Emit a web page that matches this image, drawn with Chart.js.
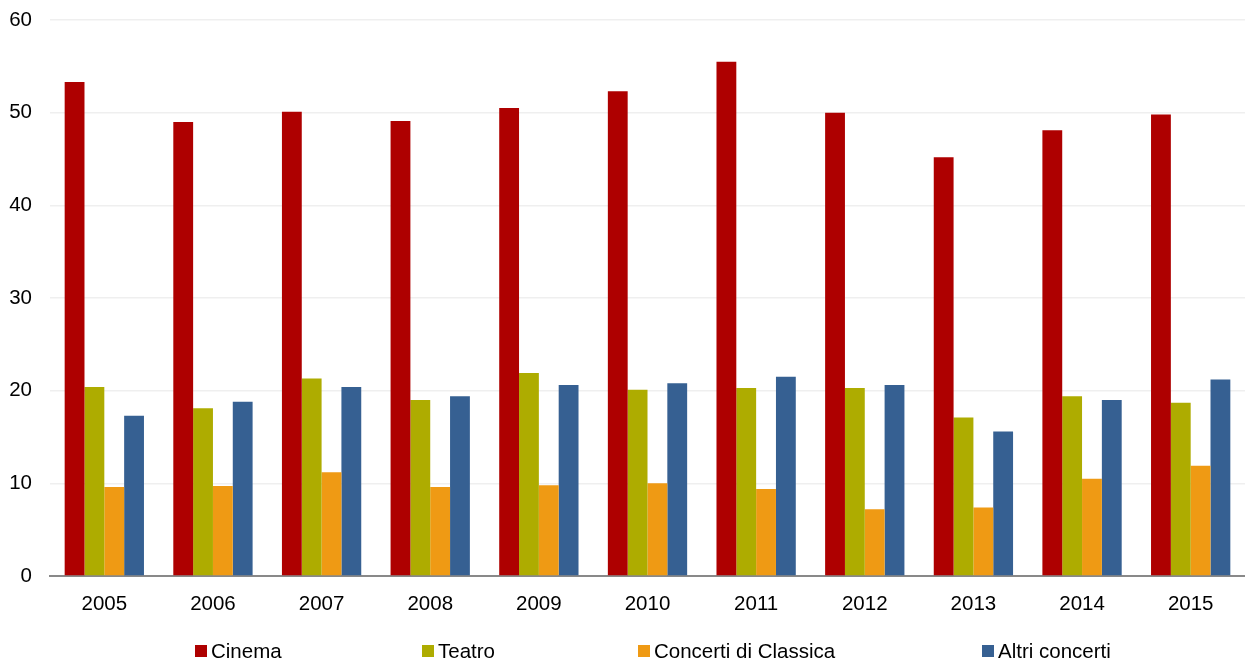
<!DOCTYPE html>
<html>
<head>
<meta charset="utf-8">
<script src="https://cdn.jsdelivr.net/npm/chart.js@4"></script>
<style>
  html, body { margin: 0; padding: 0; background: #fff; }
  #wrap { position: relative; width: 1245px; height: 662px; }
  #legend { position: absolute; left: 0; top: 0; width: 1245px; height: 662px; pointer-events: none;
            font-family: "Liberation Sans", Arial, sans-serif; font-size: 20.5px; color: #000; }
  .li { position: absolute; top: 639px; display: flex; align-items: center; white-space: nowrap; }
  .li .box { width: 12px; height: 12px; margin-right: 4px; }
</style>
</head>
<body>
<div id="wrap">
  <canvas id="c" width="1245" height="662"></canvas>
  <div id="legend"></div>
</div>
<script>
const categories = ["2005","2006","2007","2008","2009","2010","2011","2012","2013","2014","2015"];
const seriesNames = ["Cinema","Teatro","Concerti di Classica","Altri concerti"];
const cinema   = [53.3, 49.0, 50.1, 49.1, 50.5, 52.3, 55.5, 50.0, 45.2, 48.1, 49.8];
const teatro   = [20.4, 18.1, 21.3, 19.0, 21.9, 20.1, 20.3, 20.3, 17.1, 19.4, 18.7];
const classica = [9.6, 9.7, 11.2, 9.6, 9.8, 10.0, 9.4, 7.2, 7.4, 10.5, 11.9];
const altri    = [17.3, 18.8, 20.4, 19.4, 20.6, 20.8, 21.5, 20.6, 15.6, 19.0, 21.2];
const yTicks   = [0, 10, 20, 30, 40, 50, 60];

const colors = ["#AE0000", "#AEAC00", "#EF9A14", "#366092"];
const values = [cinema, teatro, classica, altri];
const legendX = [195, 422, 638, 982];

const font = { family: "'Liberation Sans', Arial, sans-serif", size: 20.5 };

new Chart(document.getElementById('c'), {
  type: 'bar',
  data: {
    labels: categories,
    datasets: seriesNames.map((n, i) => ({
      label: n,
      data: values[i],
      backgroundColor: colors[i],
      borderWidth: 0,
      categoryPercentage: 0.73,
      barPercentage: 1.0
    }))
  },
  options: {
    responsive: false,
    animation: false,
    layout: { padding: { top: 20, right: 0, left: 0, bottom: 0 } },
    plugins: { legend: { display: false }, tooltip: { enabled: false } },
    scales: {
      x: {
        grid: { display: false, drawTicks: false },
        border: { display: true, color: '#898989', width: 2 },
        ticks: { color: '#000', font: font, padding: 16, maxRotation: 0 },
        afterFit: (s) => { s.height = 86; s.paddingLeft = 0; s.paddingRight = 0; }
      },
      y: {
        min: 0, max: 60,
        afterBuildTicks: (s) => { s.ticks = yTicks.map(v => ({ value: v })); },
        grid: { color: '#EFEFEF', lineWidth: 1.5, drawTicks: false },
        border: { display: false },
        ticks: { color: '#000', font: font, padding: 18 },
        afterFit: (s) => { s.width = 50; s.paddingTop = 0; s.paddingBottom = 0; }
      }
    }
  }
});

const lg = document.getElementById('legend');
seriesNames.forEach((n, i) => {
  const d = document.createElement('div');
  d.className = 'li';
  d.style.left = legendX[i] + 'px';
  const b = document.createElement('span');
  b.className = 'box';
  b.style.background = colors[i];
  const t = document.createElement('span');
  t.textContent = n;
  d.appendChild(b); d.appendChild(t);
  lg.appendChild(d);
});
</script>
</body>
</html>
